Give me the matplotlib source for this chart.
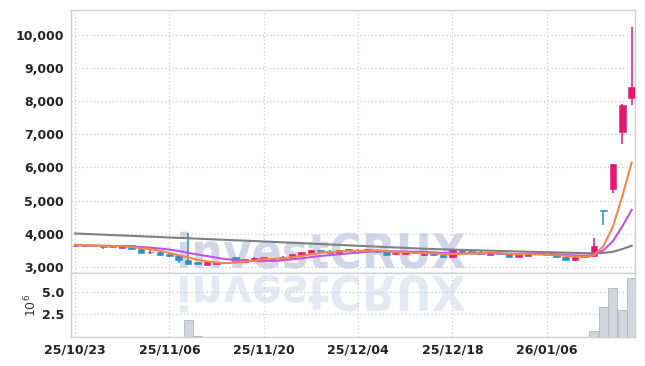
import matplotlib
matplotlib.use("Agg")
import matplotlib.pyplot as plt
from matplotlib.textpath import TextPath
from matplotlib.patches import PathPatch
from matplotlib.font_manager import FontProperties
from matplotlib.transforms import Affine2D, IdentityTransform
from matplotlib.ticker import FuncFormatter

# ---------------- data ----------------
tick_labels = ["25/10/23", "25/11/06", "25/11/20", "25/12/04", "25/12/18", "26/01/06"]
tick_index = [0, 10, 20, 30, 40, 50]

opens = [3620, 3625, 3640, 3630, 3620, 3570, 3650, 3540, 3440, 3450,
         3390, 3360, 3210, 3150, 3070, 3100, 3130, 3300, 3160, 3210,
         3240, 3270, 3230, 3270, 3370, 3430, 3510, 3490, 3410, 3490,
         3520, 3490, 3500, 3460, 3380, 3400, 3450, 3350, 3410, 3350,
         3290, 3500, 3470, 3460, 3370, 3430, 3380, 3310, 3340, 3410,
         3390, 3370, 3300, 3200, 3290, 3320, 4715, 5360, 7060, 8080]
highs = [3665, 3660, 3660, 3640, 3630, 3660, 3660, 3560, 3500, 3460,
         3410, 3370, 4010, 3160, 3160, 3160, 3140, 3310, 3240, 3290,
         3310, 3280, 3330, 3400, 3460, 3520, 3520, 3500, 3520, 3540,
         3530, 3540, 3510, 3470, 3440, 3480, 3460, 3410, 3420, 3360,
         3510, 3510, 3480, 3470, 3460, 3440, 3390, 3400, 3430, 3420,
         3400, 3380, 3310, 3310, 3370, 3880, 4715, 6100, 7910, 10240]
lows = [3600, 3615, 3620, 3530, 3580, 3560, 3530, 3420, 3390, 3320,
        3290, 3130, 3060, 3060, 3050, 3090, 3100, 3180, 3150, 3200,
        3230, 3220, 3210, 3260, 3360, 3420, 3460, 3400, 3400, 3480,
        3480, 3480, 3440, 3360, 3370, 3390, 3410, 3340, 3340, 3280,
        3280, 3430, 3430, 3380, 3360, 3380, 3280, 3300, 3330, 3390,
        3360, 3280, 3200, 3190, 3280, 3310, 4260, 5230, 6710, 7880]
closes = [3645, 3645, 3630, 3600, 3600, 3650, 3540, 3430, 3460, 3370,
          3330, 3200, 3090, 3080, 3150, 3150, 3110, 3190, 3230, 3270,
          3300, 3230, 3300, 3390, 3450, 3510, 3470, 3410, 3510, 3530,
          3490, 3530, 3450, 3370, 3430, 3470, 3420, 3400, 3350, 3290,
          3500, 3440, 3440, 3390, 3450, 3390, 3290, 3390, 3420, 3400,
          3370, 3290, 3210, 3300, 3330, 3630, 4690, 6090, 7880, 8430]
volumes = [20000, 15000, 15000, 20000, 15000, 20000, 25000, 30000, 20000, 25000,
           25000, 40000, 1870000, 60000, 50000, 20000, 15000, 25000, 15000, 15000,
           15000, 15000, 15000, 20000, 25000, 20000, 15000, 20000, 25000, 15000,
           15000, 15000, 15000, 20000, 15000, 15000, 15000, 15000, 15000, 15000,
           30000, 20000, 15000, 15000, 15000, 15000, 15000, 15000, 15000, 15000,
           15000, 15000, 20000, 20000, 25000, 640000, 3300000, 5400000, 3000000, 6500000]
ma5 = [3670, 3660, 3648, 3636, 3624, 3625, 3604, 3564, 3536, 3490,
       3426, 3358, 3290, 3214, 3170, 3134, 3116, 3134, 3166, 3190,
       3238, 3254, 3266, 3298, 3334, 3376, 3424, 3446, 3470, 3486,
       3482, 3494, 3502, 3474, 3454, 3448, 3428, 3418, 3418, 3386,
       3392, 3396, 3404, 3412, 3444, 3422, 3392, 3382, 3388, 3378,
       3374, 3354, 3338, 3314, 3300, 3352, 3632, 4210, 5124, 6144]
ma10 = [3650, 3650, 3645, 3640, 3635, 3632, 3620, 3600, 3585, 3557,
        3526, 3481, 3427, 3375, 3330, 3280, 3237, 3213, 3190, 3180,
        3177, 3180, 3201, 3232, 3262, 3298, 3334, 3356, 3384, 3410,
        3429, 3459, 3474, 3472, 3470, 3466, 3461, 3460, 3444, 3420,
        3421, 3412, 3411, 3413, 3415, 3407, 3394, 3393, 3400, 3411,
        3398, 3383, 3360, 3351, 3341, 3365, 3505, 3775, 4221, 4724]
ma60 = [4010, 3998, 3986, 3974, 3962, 3950, 3938, 3926, 3914, 3902,
        3890, 3878, 3866, 3854, 3842, 3830, 3818, 3806, 3794, 3782,
        3770, 3757, 3744, 3731, 3718, 3705, 3692, 3679, 3666, 3653,
        3640, 3627, 3614, 3601, 3588, 3575, 3563, 3551, 3540, 3532,
        3524, 3516, 3508, 3500, 3492, 3484, 3476, 3468, 3461, 3454,
        3447, 3440, 3433, 3426, 3419, 3413, 3425, 3460, 3540, 3640]

# ---------------- style ----------------
UP = "#e5196f"
DOWN = "#2b8fc7"
GRID = "#c9cbe0"
SPINE = "#cfcfd6"
WM = "#d2d7e8"
TFAM = ["DejaVu Sans"]
TSIZE = 9

W, H = 645, 366
fig = plt.figure(figsize=(W / 100, H / 100), dpi=100)
ax = fig.add_axes([71 / W, 1 - 273 / H, 564 / W, 263 / H])
axv = fig.add_axes([71 / W, 1 - 337 / H, 564 / W, 64 / H], sharex=ax)

n = len(closes)
x = list(range(n))

# candles
bw = 0.7
for i in x:
    o, h, l, c = opens[i], highs[i], lows[i], closes[i]
    col = UP if c >= o else DOWN
    ax.vlines(i, l, h, color=col, linewidth=1.1, zorder=3)
    bottom = min(o, c)
    height = max(abs(c - o), 12)
    ax.bar(i, height, bw, bottom=bottom, color=col, edgecolor=col, linewidth=0.4, zorder=4)

# moving averages
ax.plot(x, ma60, color="#808080", linewidth=1.5, zorder=5)
ax.plot(x, ma10, color="#c64fe6", linewidth=1.5, zorder=5)
ax.plot(x, ma5, color="#f0874b", linewidth=1.5, zorder=5)

# volume
axv.bar(x, [v / 1e6 for v in volumes], 0.95, color="#d5d5dc", edgecolor="#b5b5bd", linewidth=0.6, zorder=3)

# axes limits
ax.set_xlim(-0.42, 59.35)
ax.set_ylim(2820, 10740)
axv.set_ylim(0, 7.1)

ax.set_yticks([3000, 4000, 5000, 6000, 7000, 8000, 9000, 10000])
ax.yaxis.set_major_formatter(FuncFormatter(lambda v, p: f"{int(v):,}"))
axv.set_yticks([2.5, 5.0])
axv.yaxis.set_major_formatter(FuncFormatter(lambda v, p: f"{v:.1f}"))
axv.set_xticks(tick_index)
axv.set_xticklabels(tick_labels)
ax.tick_params(axis="x", labelbottom=False)

for a in (ax, axv):
    a.grid(True, color=GRID, linestyle=(0, (1, 2)), linewidth=0.9)
    a.set_axisbelow(True)
    a.tick_params(length=0, pad=5, colors="#222222")
    for s in a.spines.values():
        s.set_color(SPINE)
        s.set_linewidth(1.0)
    for lab in a.get_yticklabels() + a.get_xticklabels():
        lab.set_fontfamily(TFAM)
        lab.set_fontweight("bold")
        lab.set_fontsize(TSIZE)
axv.tick_params(axis="x", pad=5)

axv.set_ylabel("$10^6$", fontsize=9, color="#333333", labelpad=2)

# watermark with reflection
fp = FontProperties(family="DejaVu Sans", weight="bold")
tp = TextPath((0, 0), "investCRUX", size=100, prop=fp)
ext = tp.get_extents()
target_w = 285.0
s = target_w / ext.width
x0 = 180 - ext.x0 * s
base_y = H - 268
tr = Affine2D().scale(s, s * 1.08).translate(x0, base_y)
wm = PathPatch(tr.transform_path(tp), facecolor=WM, edgecolor="none", transform=IdentityTransform(), zorder=0.3)
ax.add_patch(wm)
wm.set_clip_path(ax.patch)
tr2 = Affine2D().scale(s, -s * 1.08).translate(x0, H - 276)
wm2 = PathPatch(tr2.transform_path(tp), facecolor="#e7e9f2", edgecolor="none", transform=IdentityTransform(), zorder=0.3)
axv.add_patch(wm2)
wm2.set_clip_path(axv.patch)

fig.savefig("out.png", dpi=100)
